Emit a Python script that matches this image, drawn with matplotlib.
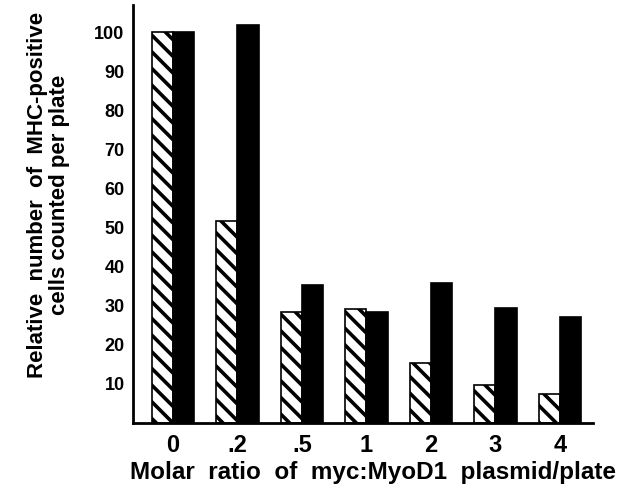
import matplotlib
matplotlib.use("Agg")
import matplotlib.pyplot as plt
import numpy as np

categories = ["0", ".2", ".5", "1", "2", "3", "4"]
hatched_vals = [100, 51.8, 28.5, 29.2, 15.4, 9.7, 7.4]
solid_vals = [100, 101.8, 35.4, 28.5, 35.9, 29.5, 27.2]
yticks = [10, 20, 30, 40, 50, 60, 70, 80, 90, 100]

plt.rcParams['font.family'] = ['Liberation Sans', 'DejaVu Sans']
plt.rcParams['hatch.linewidth'] = 2.6

fig = plt.figure(figsize=(6.24, 4.94), dpi=100)
ax = fig.add_axes([0.213, 0.1437, 0.737, 0.846])

x = np.arange(len(categories))
w = 0.33
ax.bar(x - w / 2, hatched_vals, w, color='white', edgecolor='black',
       hatch='\\\\', linewidth=1.2)
ax.bar(x + w / 2, solid_vals, w, color='black', edgecolor='black', linewidth=1.2)

ax.set_xlim(-0.62, 6.51)
ax.set_ylim(0, 107)
ax.set_xticks(x)
ax.set_xticklabels(categories, fontsize=17, fontweight='bold')
ax.set_yticks(yticks)
ax.set_yticklabels([str(v) for v in yticks], fontsize=13, fontweight='bold')
ax.tick_params(axis='both', length=0)
ax.tick_params(axis='x', pad=8)
ax.tick_params(axis='y', pad=6)

for s in ['top', 'right']:
    ax.spines[s].set_visible(False)
for s in ['left', 'bottom']:
    ax.spines[s].set_linewidth(2)

fig.text(0.597, 0.044, "Molar  ratio  of  myc:MyoD1  plasmid/plate",
         ha='center', va='center', fontsize=17.5, fontweight='bold')
fig.text(0.078, 0.605, "Relative  number  of  MHC-positive\ncells counted per plate",
         ha='center', va='center', rotation=90, fontsize=16, fontweight='bold',
         linespacing=1.05)

fig.savefig("out.png", dpi=100)
